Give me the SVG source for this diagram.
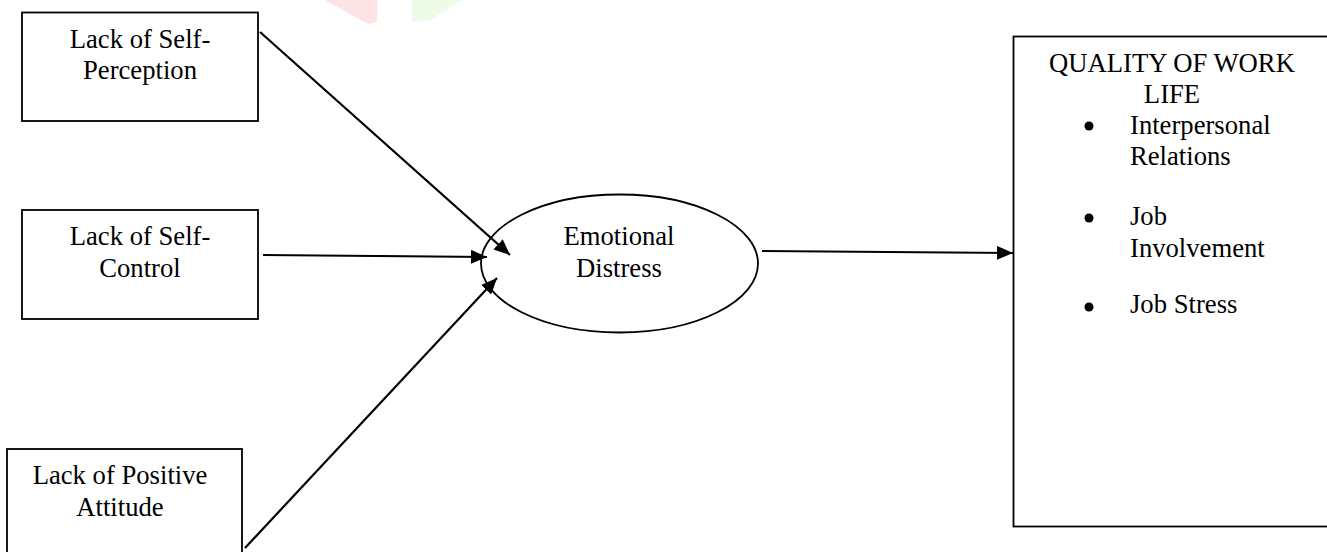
<svg xmlns="http://www.w3.org/2000/svg" width="1327" height="552" viewBox="0 0 1327 552">
<style>
.box{fill:#fff;stroke:#000;stroke-width:1.8}
.t{font-family:"Liberation Serif","Times New Roman",serif;font-size:26.67px;fill:#000}
.c{text-anchor:middle}
.conn{stroke:#000;stroke-width:2.2;fill:none}
</style>
<defs>
<marker id="ah" markerUnits="userSpaceOnUse" markerWidth="17" markerHeight="14" refX="16" refY="7" orient="auto">
<path d="M0,0 L16,7 L0,14 z" fill="#000"/>
</marker>
</defs>
<rect width="1327" height="552" fill="#fff"/>
<g id="watermark">
<polygon points="325,0 377,0 377,22 370,24 364,22" fill="#fde3e3"/>
<polygon points="412,0 462,0 430,20 412,22" fill="#eefbe6"/>
</g>
<g id="n1">
<rect class="box" x="22" y="12.5" width="236" height="108.5"/>
<text class="t c" x="140" y="48">Lack of Self-</text>
<text class="t c" x="140" y="79">Perception</text>
</g>
<g id="n2">
<rect class="box" x="22" y="210" width="236" height="109"/>
<text class="t c" x="140" y="245">Lack of Self-</text>
<text class="t c" x="140" y="277">Control</text>
</g>
<g id="n3">
<rect class="box" x="7" y="449" width="235" height="115"/>
<text class="t c" x="120" y="484">Lack of Positive</text>
<text class="t c" x="120" y="516">Attitude</text>
</g>
<g id="n4">
<ellipse class="box" cx="619.5" cy="263.5" rx="138.5" ry="69"/>
<text class="t c" x="619" y="245">Emotional</text>
<text class="t c" x="619" y="277">Distress</text>
</g>
<g id="n5">
<rect class="box" x="1013.5" y="36.5" width="330" height="490"/>
<text class="t c" x="1172" y="72">QUALITY OF WORK</text>
<text class="t c" x="1172" y="103">LIFE</text>
<circle cx="1089" cy="126" r="4.5" fill="#000"/>
<text class="t" x="1130" y="134">Interpersonal</text>
<text class="t" x="1130" y="165">Relations</text>
<circle cx="1089" cy="218" r="4.5" fill="#000"/>
<text class="t" x="1130" y="225">Job</text>
<text class="t" x="1130" y="257">Involvement</text>
<circle cx="1089" cy="307" r="4.5" fill="#000"/>
<text class="t" x="1130" y="313">Job Stress</text>
</g>
<g id="connectors">
<line class="conn" x1="260" y1="32" x2="510" y2="255" marker-end="url(#ah)"/>
<line class="conn" x1="263" y1="255" x2="487" y2="257" marker-end="url(#ah)"/>
<line class="conn" x1="245" y1="548" x2="497" y2="278" marker-end="url(#ah)"/>
<line class="conn" x1="762" y1="251" x2="1013" y2="253" marker-end="url(#ah)"/>
</g>
</svg>
